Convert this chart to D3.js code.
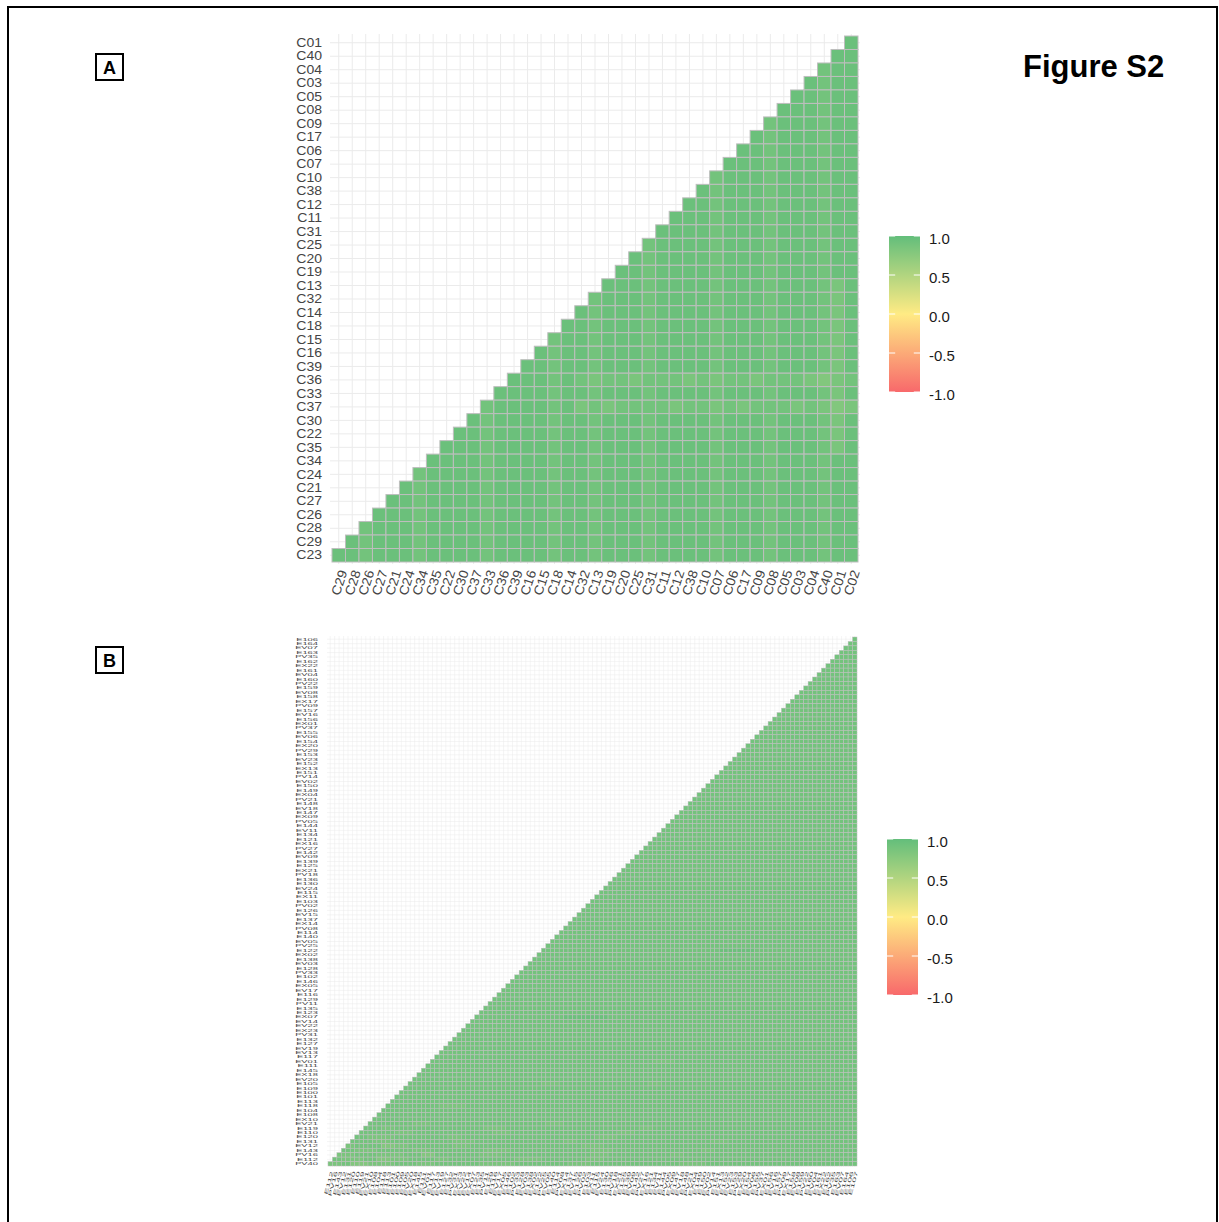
<!DOCTYPE html>
<html>
<head>
<meta charset="utf-8">
<script src="https://cdn.jsdelivr.net/npm/d3@7"></script>
<style>
body { margin: 0; background: #fff; }
svg text { font-family: "Liberation Sans", Arial, sans-serif; }
</style>
</head>
<body>
<div id="figure"></div>
<script>
var width = 1219;
var height = 1222;

// correlation level for each letter used in the cell rows below
var levels = { a: 1.0, b: 0.95, c: 0.9, d: 0.85, e: 0.8, f: 0.75 };

// panel A: variables in plot order (first = bottom row only, last = right column only)
var varsA = ["C23","C29","C28","C26","C27","C21","C24","C34","C35","C22",
             "C30","C37","C33","C36","C39","C16","C15","C18","C14","C32",
             "C13","C19","C20","C25","C31","C11","C12","C38","C10","C07",
             "C06","C17","C09","C08","C05","C03","C04","C40","C01","C02"];

// panel A cells, top row (C01) first, one letter per cell, right-aligned
var rowsA = [
  "b",
  "bb",
  "cbb",
  "bcbb",
  "bbcbb",
  "bbbcbb",
  "cbbbcbb",
  "bcbbbcbb",
  "bbcbbbcbb",
  "bbbcbbbcbb",
  "cbbbcbbbcbb",
  "bcbbbcbbbcbb",
  "bbcbbbcbbbcbb",
  "bbbcbbbcbbbcbb",
  "bbbbcbbbcbbbcbb",
  "cbbbbcbbbcbbbcbb",
  "bcbbbbcbbbcbbbcbb",
  "bbcbbbbcbbbcbbbcbb",
  "bbbcbbbbcbbbcbbbcdb",
  "cbbbcbbbbcbbbcbbbcdb",
  "bcbbbcbbbbcbbbcbbbcdb",
  "bbcbbbcbbbbcbbbcbbbcdb",
  "cbbcbbbcbbbbcbbbcbbbcdb",
  "bcbbcbbbcbbbbcbbbcbbbcdb",
  "bbcbbcbbbcbbbbcbbbcbbbcdb",
  "bbbcbcdccdcccdcdccdcccdedc",
  "bbbbcbbcbbbcbbbbcbbbcbbbcdb",
  "cbbbbcbdcdccccdccdcdcccdcded",
  "bcbbbbcbbcbbbcbbbbcbbbcbbbcdb",
  "bbcbbbbcbbcbbbcbbbbcbbbcbbbcdb",
  "bbbcbbbbcbbcbbbcbbbbcbbbcbbbcdb",
  "bbbbcbbbbcbbcbbbcbbbbcbbbcbbbcbb",
  "cbbbbcbbbbcbbcbbbcbbbbcbbbcbbbcbb",
  "bcbbbbcbbbbcbbcbbbcbbbbcbbbcbbbcbb",
  "bbcbbbbcbbbbcbbcbbbcbbbbcbbbcbbbcbb",
  "bbbcbbbbcbbbbcbbcbbbcbbbbcbbbcbbbcbb",
  "cbbbcbbbbcbbbbcbbcbbbcbbbbcbbbcbbbcbb",
  "bcbbbcbbbbcbbbbcbbcbbbcbbbbcbbbcbbbcbb",
  "bbcbbbcbbbbcbbbbcbbcbbbcbbbbcbbbcbbbcbb"
];

// panel B: variables in plot order
var varsB = ["PV40","E112","PV16","E143","EV12","E131","E120","E110","E119","EV21",
             "EX10","E108","E104","E118","E113","E101","E100","E109","E105","EV20",
             "EX18","E145","E111","EV01","E117","EV13","EV19","E127","E132","PV31",
             "EX23","EV22","EV14","EX07","E123","E135","PV11","E129","E116","EV17",
             "EX05","E146","E102","PV33","E128","EV03","E138","EX02","E122","PV25",
             "EV05","E140","E114","PV08","EX14","E137","EV15","E126","PV02","E103",
             "EX11","E115","EV24","E130","E136","PV18","EX21","E125","E139","EV09",
             "E142","PV27","EX16","E121","E134","EV11","E144","PV05","EX09","E147",
             "EV18","E148","PV21","EX04","E149","E150","EV02","PV14","E151","EX13",
             "E152","EV23","E153","PV29","EX20","E154","EV06","E155","PV37","EX01",
             "E156","EV16","E157","PV09","EX17","E158","EV08","E159","PV22","E160",
             "EV04","E161","EX22","E162","PV35","E163","EV07","E164","E106","E107"];

// panel B cells, top row first, as runs of letter + count
var rowsB = [
  "c1","c2","c3","c4","c5","c6","c7","c8","c9","c10",
  "c11","c12","c13","c14","c15","c16","c17","c18","c19","c20",
  "c21","c22","c23","c24","c25","c26","c27","c28","c29","c30",
  "c31","c32","c33","c34","c35","c36","c37","c38","c39","c40",
  "c41","c42","c43","c44","c45","c46","c47","c48","c49","c50",
  "c51","c52","c53","c54","c55","c56","c57","c58","c59","c60",
  "c61","c62","c63","c64","c65","c66","c67","c68","c69","c70",
  "c40b8c23","c72","c73","c74","c75","c76","c77","c78","c79","c80",
  "c81","c82","c83","c84","c85","c20b10c56","c87","c88","c89","c90",
  "c91","c92","c93","c94","c95","c50d5c41","c97","c98","c99","c100",
  "c30d4c20d3c44","c102","c103","c104","c105","c12d6c40c48","c107","c108","c109",
  "c10d4c26d4c66",
  "c4d3c20d5c30d3c46",
  "c8d4c18d4c24d4c50",
  "c3d6c12d3c30d5c54",
  "c5d4c14d5c20d3c30d4c29",
  "d2c6e3d3c10d4c25d5c15c42",
  "c3d5c8d4c12d6c18d5c20d3c32",
  "d4c5d6c4e3c10d5c20d4c14d3c39",
  "c2d5c3e3d4c6d3c15d6c10d4c25c32",
  "d3c2e4d6c5d4c10d8c12d5c20d6c34"
];

var legendTicks = [1, 0.5, 0, -0.5, -1];

var svg = d3.select("#figure").append("svg")
  .attr("width", width)
  .attr("height", height);

var color = d3.scaleLinear()
  .domain([-1, 0, 1])
  .range(["#F8696B", "#FFEB84", "#63BE7B"]);

// page frame
svg.append("rect")
  .attr("x", 8).attr("y", 7)
  .attr("width", 1209).attr("height", 1240)
  .attr("fill", "none").attr("stroke", "#000").attr("stroke-width", 2);

svg.append("text")
  .attr("x", 1023).attr("y", 77)
  .attr("font-size", 31).attr("font-weight", "bold")
  .text("Figure S2");

panelLetter("A", 96, 54);
panelLetter("B", 96, 647);

drawCorr(varsA, cellsFromRows(varsA, rowsA), {
  left: 332, top: 36, size: 526, ext: 2,
  fontY: 13, fontX: 13, padY: 8, padX: 5, angle: 72,
  sx: 1.08, sy: 1, stroke: 1, grid: 1
});
drawLegend("legA", 889, 236, 31, 156);

// the small labels of panel B are squeezed across their lines, as in the scan
drawCorr(varsB, cellsFromRows(varsB, rowsB.map(expandRuns)), {
  left: 328, top: 637, size: 529, ext: 1,
  fontY: 8.5, fontX: 9.5, padY: 9, padX: 4, angle: 75,
  sx: 1.1, sy: 0.5, stroke: 0.5, grid: 0.5
});
drawLegend("legB", 887, 839, 31, 156);

function panelLetter(s, x, y) {
  svg.append("rect")
    .attr("x", x).attr("y", y).attr("width", 27).attr("height", 26)
    .attr("fill", "none").attr("stroke", "#000").attr("stroke-width", 2);
  svg.append("text")
    .attr("x", x + 13.5).attr("y", y + 20)
    .attr("text-anchor", "middle")
    .attr("font-size", 18).attr("font-weight", "bold")
    .text(s);
}

function expandRuns(s) {
  return s.replace(/([a-z])(\d+)/g, function(m, ch, k) { return ch.repeat(+k); });
}

// turn the right-aligned rows into cells; the top row pairs with the last variable
function cellsFromRows(vars, rows) {
  var n = vars.length - 1;
  var cells = [];
  rows.forEach(function(row, r) {
    if (row.length != r + 1) console.warn("row", r, "has", row.length, "cells");
    var yVar = vars[n - 1 - r];
    var start = n - row.length;
    row.split("").forEach(function(ch, k) {
      cells.push({ x: vars[start + k + 1], y: yVar, r: levels[ch] });
    });
  });
  return cells;
}

function drawCorr(vars, cells, o) {
  var n = vars.length - 1;
  var x = d3.scaleBand().domain(vars.slice(1)).range([o.left, o.left + o.size]);
  var y = d3.scaleBand().domain(vars.slice(0, n)).range([o.top + o.size, o.top]);
  var half = x.bandwidth() / 2;
  var g = svg.append("g");

  // background grid through the cell centres
  g.append("g").selectAll("line")
    .data(x.domain())
    .enter().append("line")
    .attr("x1", function(d) { return x(d) + half; })
    .attr("x2", function(d) { return x(d) + half; })
    .attr("y1", o.top - o.ext)
    .attr("y2", o.top + o.size + o.ext)
    .attr("stroke", "#ebebeb").attr("stroke-width", o.grid);
  g.append("g").selectAll("line")
    .data(y.domain())
    .enter().append("line")
    .attr("y1", function(d) { return y(d) + half; })
    .attr("y2", function(d) { return y(d) + half; })
    .attr("x1", o.left - o.ext)
    .attr("x2", o.left + o.size + o.ext)
    .attr("stroke", "#ebebeb").attr("stroke-width", o.grid);

  g.append("g").selectAll("rect")
    .data(cells)
    .enter().append("rect")
    .attr("x", function(d) { return x(d.x); })
    .attr("y", function(d) { return y(d.y); })
    .attr("width", x.bandwidth())
    .attr("height", y.bandwidth())
    .attr("fill", function(d) { return color(d.r); })
    .attr("stroke", "#bebebe")
    .attr("stroke-width", o.stroke);

  var ya = g.append("g")
    .attr("transform", "translate(" + (o.left - o.ext) + ",0)")
    .call(d3.axisLeft(y).tickSize(0).tickPadding(0));
  ya.select(".domain").remove();
  ya.attr("font-size", o.fontY);
  ya.selectAll("text")
    .attr("fill", "#444")
    .attr("x", 0)
    .attr("transform", "translate(" + (-o.padY) + ",0) scale(" + o.sx + "," + o.sy + ")");

  var xa = g.append("g")
    .attr("transform", "translate(0," + (o.top + o.size + o.ext) + ")")
    .call(d3.axisBottom(x).tickSize(0).tickPadding(0));
  xa.select(".domain").remove();
  xa.attr("font-size", o.fontX);
  xa.selectAll("text")
    .attr("fill", "#444")
    .attr("y", 0)
    .attr("dy", null)
    .attr("dominant-baseline", "hanging")
    .attr("text-anchor", "end")
    .attr("transform", "translate(0," + o.padX + ") rotate(" + (-o.angle) + ") scale(" + o.sx + "," + o.sy + ")");
}

function drawLegend(id, lx, ly, w, h) {
  var ls = d3.scaleLinear().domain([-1, 1]).range([ly + h, ly]);
  var grad = svg.append("defs").append("linearGradient")
    .attr("id", id)
    .attr("x1", 0).attr("y1", 1).attr("x2", 0).attr("y2", 0);
  grad.selectAll("stop")
    .data([-1, 0, 1])
    .enter().append("stop")
    .attr("offset", function(d) { return (d + 1) / 2; })
    .attr("stop-color", function(d) { return color(d); });

  var g = svg.append("g");
  g.append("rect")
    .attr("x", lx).attr("y", ly).attr("width", w).attr("height", h)
    .attr("fill", "url(#" + id + ")");

  g.selectAll("line.l")
    .data(legendTicks)
    .enter().append("line")
    .attr("x1", lx).attr("x2", lx + w / 5)
    .attr("y1", function(d) { return ls(d); })
    .attr("y2", function(d) { return ls(d); })
    .attr("stroke", "#fff").attr("stroke-width", 1);
  g.selectAll("line.r")
    .data(legendTicks)
    .enter().append("line")
    .attr("x1", lx + w - w / 5).attr("x2", lx + w)
    .attr("y1", function(d) { return ls(d); })
    .attr("y2", function(d) { return ls(d); })
    .attr("stroke", "#fff").attr("stroke-width", 1);

  g.selectAll("text")
    .data(legendTicks)
    .enter().append("text")
    .attr("x", lx + w + 9)
    .attr("y", function(d) { return ls(d) + 3; })
    .attr("dy", "0.35em")
    .attr("font-size", 15)
    .attr("fill", "#1a1a1a")
    .text(function(d) { return d.toFixed(1); });
}
</script>
</body>
</html>
